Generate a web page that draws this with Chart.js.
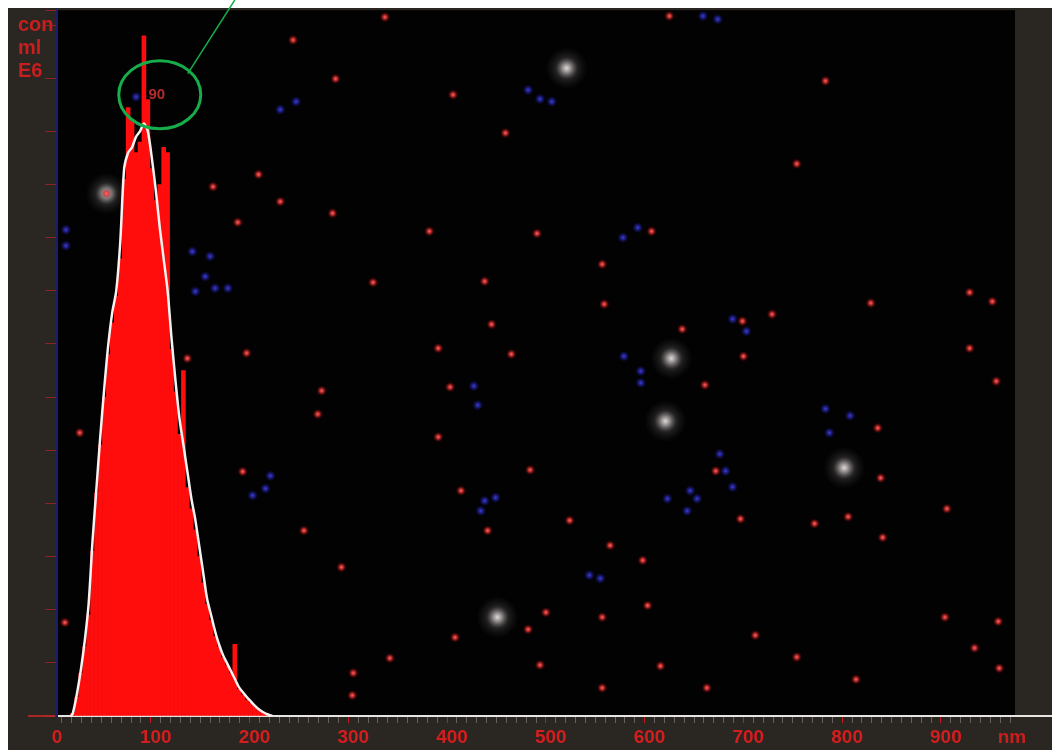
<!DOCTYPE html>
<html>
<head>
<meta charset="utf-8">
<title>Size distribution</title>
<script src="https://cdn.jsdelivr.net/npm/chart.js@4.4.1/dist/chart.umd.min.js"></script>
<style>
  html, body { margin: 0; padding: 0; background: #fff; }
</style>
</head>
<body>
<canvas id="ntaChart" width="1052" height="750"></canvas>
<script>
// histogram bins (nm) and counts (con/ml E6)
var binSizes = [16, 20, 24, 28, 32, 36, 40, 44, 48, 52, 56, 60, 64, 68, 72, 76, 80, 84, 88, 92,
                96, 100, 104, 108, 112, 116, 120, 124, 128, 132, 136, 140, 144, 148, 152, 156, 160, 164, 168, 172,
                176, 180, 184, 188, 192, 196, 200, 204, 208, 212];
var binCounts = [0.05, 0.35, 0.8, 1.3, 1.9, 3.1, 4.2, 5.1, 6.0, 6.8, 7.4, 7.9, 8.6, 10.1, 11.45, 11.2, 10.6, 10.8, 12.8, 11.6,
                 10.3, 9.7, 10.0, 10.7, 10.6, 6.9, 6.1, 5.3, 6.5, 4.3, 3.9, 3.5, 3.0, 2.5, 2.1, 1.8, 1.5, 1.3, 1.1, 0.95,
                 0.8, 1.35, 0.5, 0.4, 0.3, 0.25, 0.18, 0.12, 0.07, 0.03];

// smoothed white curve
var fitSizes = [14, 16, 20, 24, 28, 32, 36, 40, 44, 48, 52, 56, 60, 64, 68, 72, 76, 80, 84, 88, 92,
                96, 100, 104, 108, 112, 116, 120, 124, 128, 132, 136, 140, 144, 148, 152, 156, 160, 164, 168, 172,
                176, 180, 184, 188, 192, 196, 200, 204, 208, 212, 218];
var fitConc = [0, 0.05, 0.4, 0.85, 1.4, 2.1, 3.3, 4.3, 5.3, 6.2, 7.0, 7.6, 8.0, 8.9, 10.3, 10.6, 10.7, 10.9, 11.0, 11.15, 11.0,
               10.5, 9.9, 9.2, 8.6, 8.0, 7.1, 6.3, 5.6, 5.1, 4.6, 4.1, 3.7, 3.2, 2.7, 2.2, 1.9, 1.6, 1.35, 1.15, 1.0,
               0.85, 0.7, 0.55, 0.45, 0.36, 0.28, 0.2, 0.13, 0.08, 0.04, 0];

// particles visible in the video frame behind the plot
var redSpotNm = [332, 620, 239, 282, 401, 778, 454, 749, 158, 204, 226, 279, 183, 377, 486, 602, 552, 320, 433, 554,
                 824, 924, 947, 440, 633, 724, 694, 132, 192, 386, 460, 695, 924, 951, 268, 398, 656, 264, 23, 386,
                 831, 188, 409, 479, 667, 834, 250, 436, 519, 692, 767, 801, 836, 901, 593, 288, 560, 598, 552, 495,
                 403, 337, 300, 477, 489, 611, 707, 749, 809, 899, 953, 954, 929, 8, 552, 658, 299, 50];
var redSpotConc = [13.15, 13.17, 12.72, 11.99, 11.69, 11.95, 10.97, 10.39, 9.96, 10.19, 9.68, 9.46, 9.29, 9.12, 9.08, 9.12, 8.5, 8.16, 8.18, 7.75,
                   7.77, 7.97, 7.8, 7.37, 7.28, 7.56, 7.43, 6.73, 6.83, 6.92, 6.81, 6.77, 6.92, 6.3, 6.12, 6.19, 6.23, 5.68, 5.33, 5.25,
                   5.42, 4.6, 4.24, 4.63, 4.61, 4.48, 3.49, 3.49, 3.68, 3.71, 3.62, 3.75, 3.36, 3.9, 2.93, 2.8, 3.21, 2.08, 1.86, 1.95,
                   1.48, 1.09, 0.81, 1.63, 0.96, 0.94, 1.52, 1.11, 0.69, 1.86, 1.78, 0.9, 1.28, 1.76, 0.53, 0.53, 0.39, 9.83];
var blueSpotNm = [9, 9, 226, 242, 477, 489, 501, 137, 155, 150, 140, 160, 173, 588, 573, 684, 698, 574, 591, 591,
                  422, 426, 778, 782, 803, 671, 677, 684, 641, 648, 618, 638, 198, 216, 211, 433, 444, 429, 539, 550,
                  654, 669, 80];
var blueSpotConc = [9.15, 8.85, 11.41, 11.56, 11.78, 11.61, 11.56, 8.74, 8.65, 8.27, 7.99, 8.05, 8.05, 9.19, 9.0, 7.47, 7.24, 6.77, 6.49, 6.27,
                    6.21, 5.85, 5.78, 5.33, 5.65, 4.93, 4.61, 4.31, 4.24, 4.09, 4.09, 3.86, 4.15, 4.52, 4.28, 4.05, 4.11, 3.86, 2.65, 2.59,
                    13.17, 13.11, 11.65];
var haloNm = [50, 516, 616, 797, 446, 622];
var haloConc = [9.83, 12.19, 5.55, 4.67, 1.86, 6.73];

var xTickLabels = ['0', '100', '200', '300', '400', '500', '600', '700', '800', '900'];
var xUnit = 'nm';
var yUnitLines = ['con', 'ml', 'E6'];
var peakText = '90';
var peakTextNm = 101;
var peakTextConc = 11.69;

function pairs(xs, ys) {
    return xs.map(function (x, i) { return { x: x, y: ys[i] }; });
}

// fuzzy round sprite used as point style
function sprite(size, stops) {
    var cv = document.createElement('canvas');
    cv.width = size;
    cv.height = size;
    var g = cv.getContext('2d');
    var grad = g.createRadialGradient(size / 2, size / 2, 0, size / 2, size / 2, size / 2);
    stops.forEach(function (s) { grad.addColorStop(s[0], s[1]); });
    g.fillStyle = grad;
    g.fillRect(0, 0, size, size);
    return cv;
}

var redSprite = sprite(11, [[0, 'rgba(255,110,110,1)'], [0.35, 'rgba(225,50,50,0.85)'], [0.7, 'rgba(160,25,25,0.3)'], [1, 'rgba(120,0,0,0)']]);
var blueSprite = sprite(11, [[0, 'rgba(70,70,230,0.95)'], [0.45, 'rgba(40,40,180,0.65)'], [1, 'rgba(20,20,120,0)']]);
var haloSprite = sprite(44, [[0, 'rgba(240,235,235,0.95)'], [0.2, 'rgba(205,198,198,0.7)'], [0.5, 'rgba(120,115,115,0.28)'], [1, 'rgba(60,60,60,0)']]);

var framePlugin = {
    id: 'frame',
    beforeDraw: function (chart) {
        var c = chart.ctx, a = chart.chartArea;
        c.save();
        c.fillStyle = '#ffffff';
        c.fillRect(0, 0, chart.width, chart.height);
        c.fillStyle = '#2a2622';
        c.fillRect(8, 8, chart.width - 8, chart.height - 8);
        c.fillStyle = '#020202';
        c.fillRect(a.left, a.top, a.right - a.left, a.bottom - a.top);
        c.restore();
    },
    afterDraw: function (chart) {
        var c = chart.ctx, a = chart.chartArea;
        var xs = chart.scales.x, ys = chart.scales.y;
        c.save();
        // baseline runs on under the right strip
        c.strokeStyle = '#e8e4e4';
        c.lineWidth = 2;
        c.beginPath();
        c.moveTo(a.right, a.bottom);
        c.lineTo(chart.width, a.bottom);
        c.stroke();
        c.strokeStyle = 'rgba(200,40,40,0.8)';
        c.beginPath();
        c.moveTo(28, a.bottom);
        c.lineTo(a.left - 2, a.bottom);
        c.stroke();

        // units
        c.fillStyle = '#c81e1e';
        c.font = 'bold 20px "Liberation Sans", Arial, sans-serif';
        c.textBaseline = 'middle';
        c.textAlign = 'left';
        yUnitLines.forEach(function (t, i) { c.fillText(t, 18, 25 + i * 23); });
        c.textAlign = 'center';
        c.font = 'bold 19px "Liberation Sans", Arial, sans-serif';
        c.fillText(xUnit, 1012, 738);

        // peak label with green ring
        var px = xs.getPixelForValue(peakTextNm), py = ys.getPixelForValue(peakTextConc);
        c.fillStyle = 'rgba(210,50,50,0.85)';
        c.font = 'bold 15px "Liberation Sans", Arial, sans-serif';
        c.fillText(peakText, px, py);
        c.strokeStyle = '#17ad4a';
        c.lineWidth = 3;
        c.beginPath();
        c.ellipse(px + 3, py, 41, 34, 0, 0, Math.PI * 2);
        c.stroke();
        c.lineWidth = 1.5;
        c.beginPath();
        c.moveTo(px + 31, py - 21);
        c.lineTo(px + 78, 0);
        c.stroke();
        c.restore();
    }
};

var ctx = document.getElementById('ntaChart').getContext('2d');
var chart = new Chart(ctx, {
    type: 'bar',
    data: {
        datasets: [{
            type: 'line',
            label: 'fit',
            data: pairs(fitSizes, fitConc),
            borderColor: '#f6f2f2',
            borderWidth: 2.5,
            pointRadius: 0,
            tension: 0.25,
            order: 0
        }, {
            type: 'bar',
            label: 'histogram',
            data: pairs(binSizes, binCounts),
            backgroundColor: '#ff0c0c',
            borderWidth: 0,
            barPercentage: 1,
            categoryPercentage: 1,
            order: 1
        }, {
            type: 'scatter',
            label: 'red spots',
            data: pairs(redSpotNm, redSpotConc),
            pointStyle: redSprite,
            pointRadius: 5,
            order: 2
        }, {
            type: 'scatter',
            label: 'blue spots',
            data: pairs(blueSpotNm, blueSpotConc),
            pointStyle: blueSprite,
            pointRadius: 5,
            order: 3
        }, {
            type: 'scatter',
            label: 'halos',
            data: pairs(haloNm, haloConc),
            pointStyle: haloSprite,
            pointRadius: 5,
            order: 4
        }]
    },
    options: {
        responsive: false,
        animation: false,
        devicePixelRatio: 1,
        layout: { autoPadding: false, padding: { left: 8, top: 8, right: 37, bottom: 0 } },
        plugins: { legend: { display: false }, tooltip: { enabled: false } },
        scales: {
            x: {
                type: 'linear',
                min: 0,
                max: 970,
                offset: false,
                afterFit: function (s) { s.height = 34; },
                border: { color: '#e8e4e4', width: 2 },
                grid: {
                    drawOnChartArea: false,
                    tickLength: 7,
                    color: function (c) {
                        return c.tick && c.tick.value % 100 === 0 ? '#c41c1c' : 'rgba(120,110,110,0.8)';
                    }
                },
                ticks: {
                    stepSize: 10,
                    autoSkip: false,
                    minRotation: 0,
                    maxRotation: 0,
                    padding: 3,
                    color: '#d41e1e',
                    font: { family: '"Liberation Sans", Arial, sans-serif', size: 19, weight: 'bold' },
                    callback: function (v) { return v % 100 === 0 ? xTickLabels[v / 100] : ''; }
                }
            },
            y: {
                min: 0,
                max: 13.28,
                afterFit: function (s) { s.width = 49; },
                border: { color: '#1c1c6c', width: 2 },
                grid: { drawOnChartArea: false, tickLength: 12, color: 'rgba(170,35,35,0.8)' },
                ticks: { stepSize: 1, callback: function () { return ''; } }
            }
        }
    },
    plugins: [framePlugin]
});
</script>
</body>
</html>
